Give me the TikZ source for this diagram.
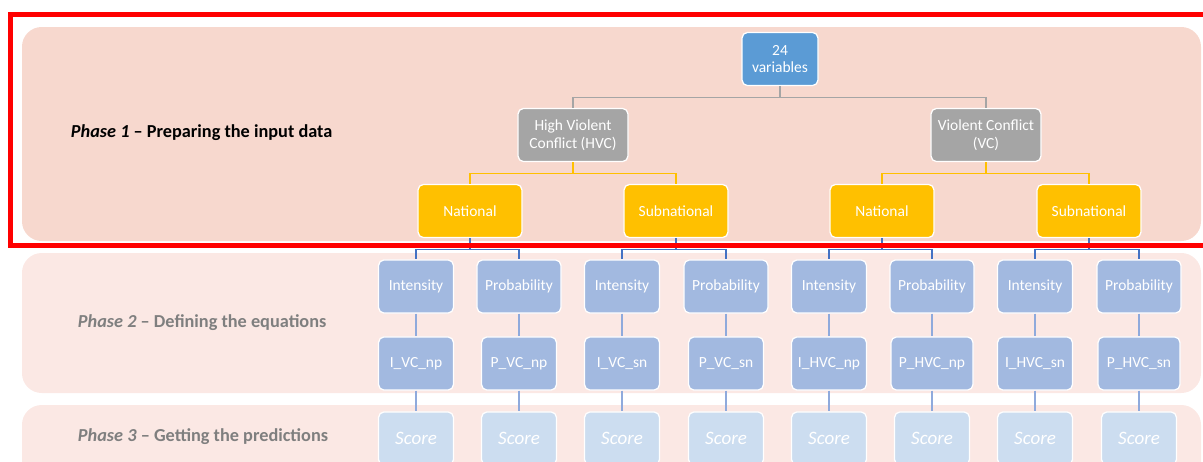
\documentclass[tikz,border=0pt]{standalone}
\usepackage{fontspec}
\setmainfont{Carlito}
\usepackage{tikz}
\definecolor{panelA}{HTML}{F7D8CE}
\definecolor{panelB}{HTML}{FBE8E4}
\definecolor{rootblue}{HTML}{5B9BD5}
\definecolor{boxgray}{HTML}{A5A5A5}
\definecolor{gold}{HTML}{FFC000}
\definecolor{eqblue}{HTML}{A2B9E0}
\definecolor{scoreblue}{HTML}{CCDDF0}
\definecolor{linkblue}{HTML}{4472C4}
\definecolor{stemblue}{HTML}{8FAADC}
\definecolor{phasegray}{HTML}{7F7F7F}

\begin{document}
\begin{tikzpicture}[x=0.025cm, y=-0.025cm,
    box/.style={rectangle, rounded corners=4pt, draw=white, line width=0.9pt, text=white,
      align=center, inner sep=1pt, minimum height=1.33cm, font=\fontsize{11}{12.5}\selectfont},
    root box/.style={box, fill=rootblue, minimum width=1.9cm},
    conflict box/.style={box, fill=boxgray, minimum width=2.75cm},
    level box/.style={box, fill=gold, minimum width=2.6cm},
    eq box/.style={box, fill=eqblue, minimum width=#1},
    score box/.style={box, fill=scoreblue, minimum width=1.875cm, font=\fontsize{13.5}{15}\selectfont\itshape},
    panel/.style={rounded corners=14pt, fill=#1},
    phase/.style={anchor=west, font=\fontsize{13}{15}\selectfont\bfseries},
    gray link/.style={draw=boxgray, line width=1pt},
    gold link/.style={draw=gold, line width=1pt},
    blue link/.style={draw=linkblue, line width=0.9pt},
    stem link/.style={draw=stemblue, line width=0.9pt}
  ]
\useasboundingbox (0,0) rectangle (1203,461);
\clip (0,0) rectangle (1203,461);
\fill[panel=panelA] (22,27) rectangle (1201,241);
\fill[panel=panelB] (22,253) rectangle (1201,393);
\fill[panel=panelB] (22,405) rectangle (1201,495);

\node[phase] (ph1) at (66,133) {\textit{Phase 1} -- Preparing the input data};
\node[phase, text=phasegray] (ph2) at (73,323) {\textit{Phase 2} -- Defining the equations};
\node[phase, text=phasegray] (ph3) at (73,437) {\textit{Phase 3} -- Getting the predictions};

\node[root box] (vars) at (780,59) {24\\variables};
\node[conflict box] (hvc) at (573,135) {High Violent\\Conflict (HVC)};
\node[conflict box] (vc) at (986,135) {Violent Conflict\\(VC)};
\draw[gray link] (vars.south) -- ++(0,11) -| (hvc.north);
\draw[gray link] (vars.south) -- ++(0,11) -| (vc.north);

\node[level box] (natA) at (470,211) {National}; \node[level box] (subA) at (676,211) {Subnational};
\node[level box] (natB) at (882,211) {National}; \node[level box] (subB) at (1089,211) {Subnational};
\draw[gold link] (hvc.south) -- ++(0,11) -| (natA.north); \draw[gold link] (hvc.south) -- ++(0,11) -| (subA.north);
\draw[gold link] (vc.south) -- ++(0,11) -| (natB.north); \draw[gold link] (vc.south) -- ++(0,11) -| (subB.north);

% equations, one column each
\foreach \x/\kind/\w [count=\i] in {416/Intensity/1.875cm, 519/Probability/2.1cm, 622/Intensity/1.875cm,
    726/Probability/2.1cm, 829/Intensity/1.875cm, 932/Probability/2.1cm, 1035/Intensity/1.875cm, 1139/Probability/2.1cm}
  \node[eq box=\w] (q\i) at (\x,286.5) {\kind};
\foreach \x/\eq/\w [count=\i] in {416/I\_VC\_np/1.875cm, 519/P\_VC\_np/1.875cm, 622/I\_VC\_sn/1.875cm,
    726/P\_VC\_sn/1.875cm, 829/I\_HVC\_np/1.875cm, 932/P\_HVC\_np/2.05cm, 1035/I\_HVC\_sn/1.875cm, 1139/P\_HVC\_sn/2.05cm}
  \node[eq box=\w] (e\i) at (\x,363.5) {\eq};
\foreach \x [count=\i] in {416,519,622,726,829,932,1035,1139}
  \node[score box] (s\i) at (\x,438.5) {Score};

\foreach \p/\a/\b in {natA/1/2, subA/3/4, natB/5/6, subB/7/8} {
  \draw[blue link] (\p.south) -- ++(0,11) -| (q\a.north);
  \draw[blue link] (\p.south) -- ++(0,11) -| (q\b.north);
}
\foreach \i in {1,...,8} {\draw[stem link] (q\i) -- (e\i); \draw[stem link] (e\i) -- (s\i);}

\draw[red, line width=0.125cm] (10.5,14.5) rectangle (1215,245.5);
\end{tikzpicture}
\end{document}
